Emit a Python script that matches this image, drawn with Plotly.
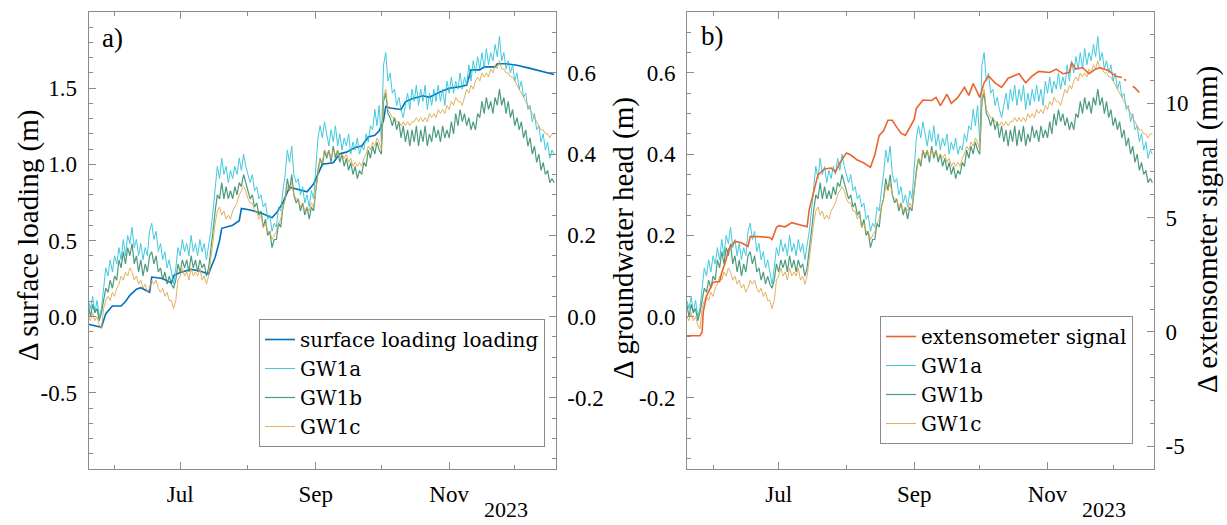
import plotly.graph_objects as go
import pandas as pd

# ---------------- data ----------------
# surface loading (m), panel a, left axis
load_dates = ["2023-05-20", "2023-05-24", "2023-05-26", "2023-05-28", "2023-05-31", "2023-06-04",
              "2023-06-06", "2023-06-08", "2023-06-11", "2023-06-13", "2023-06-17", "2023-06-18",
              "2023-06-23", "2023-06-27", "2023-06-28", "2023-07-01", "2023-07-06", "2023-07-10",
              "2023-07-14", "2023-07-15", "2023-07-17", "2023-07-19", "2023-07-20", "2023-07-25",
              "2023-07-28", "2023-07-29", "2023-08-02", "2023-08-07", "2023-08-12", "2023-08-14",
              "2023-08-17", "2023-08-20", "2023-08-23", "2023-08-28", "2023-08-31", "2023-09-03",
              "2023-09-04", "2023-09-09", "2023-09-12", "2023-09-15", "2023-09-19", "2023-09-22",
              "2023-09-25", "2023-09-28", "2023-09-30", "2023-10-02", "2023-10-03", "2023-10-05",
              "2023-10-10", "2023-10-12", "2023-10-15", "2023-10-20", "2023-10-23", "2023-10-27",
              "2023-11-01", "2023-11-06", "2023-11-09", "2023-11-10", "2023-11-11", "2023-11-15",
              "2023-11-17", "2023-11-22", "2023-11-23", "2023-11-27", "2023-12-02", "2023-12-08",
              "2023-12-14", "2023-12-19"]
load_vals = [-0.05, -0.06, -0.07, 0.02, 0.07, 0.07,
             0.10, 0.14, 0.18, 0.19, 0.16, 0.26,
             0.25, 0.22, 0.27, 0.29, 0.31, 0.30,
             0.28, 0.32, 0.39, 0.50, 0.58, 0.60,
             0.63, 0.71, 0.70, 0.68, 0.65, 0.68,
             0.75, 0.85, 0.84, 0.82, 0.87, 0.96,
             1.00, 1.01, 1.07, 1.08, 1.11, 1.12,
             1.18, 1.19, 1.22, 1.29, 1.38, 1.37,
             1.36, 1.41, 1.43, 1.45, 1.44, 1.47,
             1.50, 1.51, 1.52, 1.57, 1.62, 1.62,
             1.64, 1.64, 1.66, 1.66, 1.65, 1.63,
             1.61, 1.59]

# extensometer signal (mm), panel b, right axis (None = gap in record)
ext_dates = ["2023-05-20", "2023-05-26", "2023-05-27", "2023-05-27 12:00", "2023-05-29", "2023-06-01",
             "2023-06-04", "2023-06-05", "2023-06-07", "2023-06-08", "2023-06-11", "2023-06-14",
             "2023-06-17", "2023-06-18", "2023-06-22", "2023-06-27", "2023-06-28", "2023-06-30",
             "2023-07-01", "2023-07-04", "2023-07-07", "2023-07-10", "2023-07-14", "2023-07-15",
             "2023-07-17", "2023-07-19", "2023-07-22", "2023-07-25", "2023-07-27", "2023-07-29",
             "2023-08-01", "2023-08-03", "2023-08-06", "2023-08-09", "2023-08-12", "2023-08-14",
             "2023-08-16", "2023-08-18", "2023-08-20", "2023-08-22", "2023-08-24", "2023-08-26",
             "2023-08-28", "2023-08-30", "2023-09-01", "2023-09-02", "2023-09-05", "2023-09-09",
             "2023-09-11", "2023-09-13", "2023-09-16", "2023-09-18", "2023-09-21", "2023-09-24",
             "2023-09-26", "2023-09-28", "2023-10-01", "2023-10-03", "2023-10-05", "2023-10-08",
             "2023-10-11", "2023-10-14", "2023-10-17", "2023-10-19", "2023-10-22", "2023-10-25",
             "2023-10-28", "2023-11-02", "2023-11-05", "2023-11-08", "2023-11-11", "2023-11-12",
             "2023-11-14", "2023-11-17", "2023-11-20", "2023-11-23", "2023-11-25", "2023-11-29",
             "2023-12-02", "2023-12-05", "2023-12-05 12:00", "2023-12-06", "2023-12-07",
             "2023-12-08", "2023-12-10", "2023-12-11", "2023-12-13"]
ext_vals = [-0.17, -0.17, 0.0, 0.87, 1.57, 2.17,
            2.20, 2.60, 3.17, 3.60, 3.96, 3.90,
            3.74, 4.17, 4.17, 4.13, 4.04, 4.57,
            4.65, 4.60, 4.78, 4.70, 4.60, 5.35,
            6.10, 6.87, 7.13, 7.17, 7.00, 7.40,
            7.83, 7.74, 7.52, 7.39, 7.20, 7.74,
            8.60, 8.80, 9.26, 9.26, 8.96, 8.70,
            8.60, 8.96, 9.30, 9.78, 10.15, 10.13,
            10.26, 9.90, 10.40, 10.00, 10.26, 10.70,
            10.35, 10.87, 10.26, 10.90, 11.20, 10.90,
            10.70, 11.10, 11.20, 11.30, 10.90, 11.20,
            11.40, 11.35, 11.50, 11.30, 11.35, 11.78,
            11.50, 11.57, 11.30, 11.50, 11.57, 11.43,
            11.20, 11.13, None, 11.05, 11.00,
            None, 10.75, 10.68, 10.48]

# groundwater heads (m), daily from 2023-05-20 to 2023-12-19
gw_start = "2023-05-20"
gw1a = [0.04, 0.02, 0.05, 0.01, 0.04, 0.00, 0.02, 0.07, 0.12, 0.10,
        0.14, 0.11, 0.15, 0.13, 0.17, 0.14, 0.19, 0.15, 0.20, 0.18,
        0.22, 0.17, 0.19, 0.15, 0.18, 0.14, 0.17, 0.15, 0.21, 0.23,
        0.19, 0.21, 0.16, 0.18, 0.14, 0.16, 0.12, 0.14, 0.11, 0.08,
        0.12, 0.17, 0.15, 0.19, 0.16, 0.18, 0.15, 0.20, 0.16, 0.18,
        0.15, 0.19, 0.16, 0.18, 0.14, 0.17, 0.21, 0.26, 0.31, 0.37,
        0.34, 0.39, 0.35, 0.37, 0.33, 0.36, 0.34, 0.37, 0.35, 0.39,
        0.36, 0.40, 0.37, 0.35, 0.33, 0.35, 0.31, 0.32, 0.29, 0.30,
        0.27, 0.28, 0.24, 0.25, 0.21, 0.23, 0.22, 0.27, 0.26, 0.31,
        0.35, 0.41, 0.38, 0.42, 0.35, 0.33, 0.34, 0.30, 0.32, 0.28,
        0.30, 0.27, 0.31, 0.29, 0.36, 0.44, 0.47, 0.44, 0.48, 0.45,
        0.42, 0.46, 0.43, 0.47, 0.42, 0.45, 0.41, 0.44, 0.42, 0.45,
        0.40, 0.43, 0.41, 0.44, 0.40, 0.42, 0.41, 0.45, 0.43, 0.47,
        0.46, 0.51, 0.47, 0.52, 0.43, 0.62, 0.65, 0.58, 0.60, 0.55,
        0.56, 0.52, 0.54, 0.51, 0.49, 0.52, 0.55, 0.51, 0.56, 0.53,
        0.57, 0.52, 0.56, 0.53, 0.57, 0.51, 0.55, 0.52, 0.56, 0.53,
        0.57, 0.53, 0.56, 0.52, 0.58, 0.55, 0.59, 0.55, 0.58, 0.56,
        0.60, 0.56, 0.59, 0.57, 0.62, 0.58, 0.63, 0.60, 0.64, 0.61,
        0.65, 0.61, 0.66, 0.62, 0.65, 0.63, 0.67, 0.64, 0.69, 0.63,
        0.65, 0.61, 0.63, 0.60, 0.62, 0.58, 0.60, 0.56, 0.58, 0.54,
        0.55, 0.51, 0.52, 0.48, 0.50, 0.46, 0.47, 0.43, 0.45, 0.41,
        0.43, 0.39, 0.41, 0.40]
gw1b = [0.03, 0.00, 0.03, 0.01, 0.02, -0.01, 0.01, 0.04, 0.07, 0.06,
        0.09, 0.07, 0.10, 0.09, 0.14, 0.12, 0.16, 0.13, 0.17, 0.15,
        0.18, 0.13, 0.15, 0.11, 0.14, 0.10, 0.13, 0.11, 0.15, 0.16,
        0.13, 0.15, 0.11, 0.12, 0.09, 0.11, 0.08, 0.10, 0.08, 0.07,
        0.09, 0.13, 0.11, 0.14, 0.12, 0.14, 0.11, 0.15, 0.12, 0.14,
        0.11, 0.14, 0.12, 0.13, 0.10, 0.12, 0.16, 0.21, 0.26, 0.30,
        0.29, 0.33, 0.29, 0.32, 0.29, 0.31, 0.29, 0.32, 0.30, 0.33,
        0.32, 0.35, 0.33, 0.31, 0.29, 0.30, 0.27, 0.28, 0.25, 0.26,
        0.22, 0.24, 0.20, 0.21, 0.17, 0.19, 0.19, 0.23, 0.22, 0.27,
        0.29, 0.34, 0.31, 0.35, 0.30, 0.28, 0.29, 0.26, 0.28, 0.25,
        0.27, 0.24, 0.27, 0.26, 0.31, 0.36, 0.39, 0.37, 0.41, 0.39,
        0.41, 0.38, 0.42, 0.39, 0.41, 0.38, 0.40, 0.37, 0.39, 0.36,
        0.38, 0.35, 0.37, 0.34, 0.36, 0.35, 0.38, 0.37, 0.41, 0.39,
        0.42, 0.40, 0.43, 0.41, 0.40, 0.53, 0.55, 0.50, 0.49, 0.47,
        0.49, 0.46, 0.48, 0.44, 0.47, 0.43, 0.46, 0.42, 0.46, 0.43,
        0.47, 0.42, 0.46, 0.43, 0.47, 0.42, 0.45, 0.43, 0.47, 0.44,
        0.46, 0.43, 0.47, 0.44, 0.46, 0.44, 0.48, 0.45, 0.50, 0.47,
        0.51, 0.48, 0.50, 0.47, 0.49, 0.46, 0.48, 0.46, 0.50, 0.49,
        0.53, 0.50, 0.54, 0.51, 0.53, 0.50, 0.54, 0.52, 0.56, 0.52,
        0.54, 0.50, 0.53, 0.49, 0.51, 0.47, 0.49, 0.46, 0.48, 0.44,
        0.46, 0.42, 0.44, 0.40, 0.42, 0.38, 0.40, 0.36, 0.38, 0.35,
        0.36, 0.33, 0.34, 0.33]
gw1c = [0.00, -0.01, 0.01, -0.01, 0.00, -0.02, -0.03, 0.02, 0.04, 0.05,
        0.04, 0.06, 0.05, 0.07, 0.08, 0.10, 0.09, 0.11, 0.10, 0.12,
        0.11, 0.09, 0.10, 0.08, 0.09, 0.07, 0.08, 0.06, 0.07, 0.09,
        0.08, 0.09, 0.07, 0.06, 0.07, 0.05, 0.06, 0.04, 0.04, 0.02,
        0.04, 0.09, 0.10, 0.12, 0.10, 0.11, 0.09, 0.12, 0.10, 0.11,
        0.10, 0.12, 0.09, 0.10, 0.08, 0.10, 0.14, 0.19, 0.23, 0.26,
        0.27, 0.25, 0.26, 0.24, 0.25, 0.24, 0.26, 0.27, 0.28, 0.30,
        0.31, 0.32, 0.31, 0.29, 0.28, 0.28, 0.26, 0.26, 0.24, 0.25,
        0.22, 0.23, 0.21, 0.21, 0.19, 0.20, 0.21, 0.23, 0.24, 0.27,
        0.29, 0.32, 0.31, 0.33, 0.30, 0.29, 0.29, 0.27, 0.28, 0.26,
        0.27, 0.26, 0.28, 0.27, 0.31, 0.36, 0.39, 0.38, 0.41, 0.40,
        0.41, 0.39, 0.41, 0.40, 0.41, 0.39, 0.40, 0.39, 0.40, 0.38,
        0.39, 0.37, 0.38, 0.37, 0.38, 0.37, 0.39, 0.40, 0.42, 0.41,
        0.43, 0.42, 0.44, 0.43, 0.41, 0.54, 0.56, 0.51, 0.50, 0.49,
        0.49, 0.48, 0.48, 0.47, 0.48, 0.47, 0.48, 0.47, 0.48, 0.48,
        0.49, 0.48, 0.49, 0.48, 0.49, 0.48, 0.50, 0.49, 0.50, 0.49,
        0.51, 0.50, 0.51, 0.50, 0.52, 0.51, 0.53, 0.52, 0.54, 0.53,
        0.53, 0.52, 0.54, 0.56, 0.55, 0.57, 0.56, 0.58, 0.59, 0.58,
        0.60, 0.59, 0.60, 0.59, 0.61, 0.60, 0.62, 0.61, 0.63, 0.61,
        0.61, 0.60, 0.60, 0.59, 0.59, 0.58, 0.57, 0.56, 0.55, 0.54,
        0.53, 0.52, 0.51, 0.50, 0.49, 0.48, 0.47, 0.46, 0.46, 0.45,
        0.45, 0.44, 0.45, 0.45]
gw_dates = pd.date_range(gw_start, periods=len(gw1a), freq="D")

# axis ticks
x_range = ["2023-05-20 02:00", "2023-12-19 17:00"]
x_tick_vals = ["2023-07-01", "2023-09-01", "2023-11-01"]
x_tick_text = ["Jul", "Sep", "Nov"]
load_tick_vals = [-0.5, 0.0, 0.5, 1.0, 1.5]
load_tick_text = ["-0.5", "0.0", "0.5", "1.0", "1.5"]
head_tick_vals = [-0.2, 0.0, 0.2, 0.4, 0.6]
head_tick_text = ["-0.2", "0.0", "0.2", "0.4", "0.6"]
ext_tick_vals = [-5, 0, 5, 10]
ext_tick_text = ["-5", "0", "5", "10"]

# ---------------- style ----------------
W, H = 1227, 525
F_MAIN = "Liberation Serif"
F_LEG = "DejaVu Serif"
AX = "#8c8c8c"
C_LOAD = "#0072BD"
C_EXT = "#E8652E"
C_A = "#22C0DA"
C_B = "#3A9272"
C_C = "#DCA548"

def px_x(p):
    return p / W

def px_y(p):
    return 1 - p / H

xa = [px_x(88.5), px_x(555.7)]
xb = [px_x(687), px_x(1154)]
ydom = [px_y(469), px_y(12)]

gw_styles = [("GW1a", gw1a, C_A, 1.0, 0.85), ("GW1b", gw1b, C_B, 1.2, 0.9), ("GW1c", gw1c, C_C, 1.0, 0.85)]

fig = go.Figure()

# panel a
fig.add_trace(go.Scatter(x=load_dates, y=load_vals, mode="lines", name="surface loading loading",
                         line=dict(color=C_LOAD, width=1.6), xaxis="x", yaxis="y", legend="legend"))
for nm, vals, col, lw, op in gw_styles:
    fig.add_trace(go.Scatter(x=gw_dates, y=vals, mode="lines", name=nm, opacity=op,
                             line=dict(color=col, width=lw), xaxis="x", yaxis="y2", legend="legend"))
# panel b
fig.add_trace(go.Scatter(x=ext_dates, y=ext_vals, mode="lines", name="extensometer signal",
                         line=dict(color=C_EXT, width=1.6), xaxis="x2", yaxis="y4", legend="legend2",
                         connectgaps=False))
for nm, vals, col, lw, op in gw_styles:
    fig.add_trace(go.Scatter(x=gw_dates, y=vals, mode="lines", name=nm, opacity=op,
                             line=dict(color=col, width=lw), xaxis="x2", yaxis="y3", legend="legend2"))

tickfont = dict(family=F_MAIN, size=23, color="black")

def xaxis(dom, anchor):
    return dict(domain=dom, anchor=anchor, type="date", range=x_range,
                tickmode="array", tickvals=x_tick_vals, ticktext=x_tick_text,
                ticks="inside", ticklen=7, tickcolor=AX, tickwidth=1,
                minor=dict(tickmode="linear", tick0="2023-06-01", dtick="M1", ticks="inside",
                           ticklen=4, tickcolor=AX),
                showline=True, linecolor=AX, linewidth=1, mirror="ticks",
                showgrid=False, zeroline=False, tickfont=tickfont, ticklabelstandoff=4)

def yaxis(dom, anchor, rng, tv, tt, minor_dt, side, overlaying=None):
    d = dict(domain=dom, anchor=anchor, range=rng, side=side,
             tickmode="array", tickvals=tv, ticktext=tt,
             ticks="inside", ticklen=7, tickcolor=AX, tickwidth=1,
             minor=dict(tickmode="linear", tick0=0, dtick=minor_dt, ticks="inside",
                        ticklen=4, tickcolor=AX),
             showline=True, linecolor=AX, linewidth=1,
             showgrid=False, zeroline=False, tickfont=tickfont, ticklabelstandoff=6)
    if overlaying:
        d["overlaying"] = overlaying
    return d

legend_common = dict(font=dict(family=F_LEG, size=20, color="black"), bgcolor="white",
                     bordercolor=AX, borderwidth=1, xanchor="right", yanchor="bottom",
                     tracegroupgap=0, itemwidth=30)

fig.update_layout(
    width=W, height=H, margin=dict(l=0, r=0, t=0, b=0),
    paper_bgcolor="white", plot_bgcolor="white",
    showlegend=True,
    xaxis=xaxis(xa, "y"),
    xaxis2=xaxis(xb, "y3"),
    yaxis=yaxis(ydom, "x", [-1, 2], load_tick_vals, load_tick_text, 0.1, "left"),
    yaxis2=yaxis(ydom, "x", [-0.375, 0.75], head_tick_vals, head_tick_text, 0.05, "right", "y"),
    yaxis3=yaxis(ydom, "x2", [-0.375, 0.75], head_tick_vals, head_tick_text, 0.05, "left"),
    yaxis4=yaxis(ydom, "x2", [-6, 14], ext_tick_vals, ext_tick_text, 1, "right", "y3"),
    legend=dict(x=px_x(545), y=px_y(447), **legend_common),
    legend2=dict(x=px_x(1133), y=px_y(444), **legend_common),
)

ann_font = dict(family=F_MAIN, size=29, color="black")
annotations = [
    dict(text="a)", x=px_x(113), y=px_y(38), font=dict(family=F_MAIN, size=27, color="black")),
    dict(text="b)", x=px_x(712), y=px_y(36), font=dict(family=F_MAIN, size=27, color="black")),
    dict(text="Δ surface loading (m)", x=px_x(28), y=px_y(236), textangle=-90, font=ann_font),
    dict(text="Δ groundwater head (m)", x=px_x(623), y=px_y(238), textangle=-90, font=ann_font),
    dict(text="Δ extensometer signal (mm)", x=px_x(1207), y=px_y(230), textangle=-90, font=ann_font),
    dict(text="2023", x=px_x(506), y=px_y(509), font=dict(family=F_MAIN, size=22, color="black")),
    dict(text="2023", x=px_x(1104), y=px_y(509), font=dict(family=F_MAIN, size=22, color="black")),
]
for a in annotations:
    a.update(xref="paper", yref="paper", showarrow=False, xanchor="center", yanchor="middle",
             borderpad=0)
fig.update_layout(annotations=annotations)

fig.write_html("out.html")
